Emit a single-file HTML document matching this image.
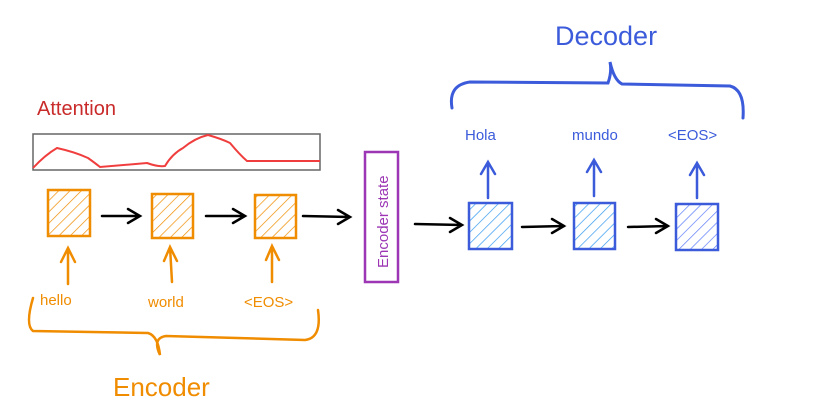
<!DOCTYPE html>
<html><head><meta charset="utf-8"><style>
html,body{margin:0;padding:0;background:#fff;}
svg{display:block;}
text{font-family:"Comic Sans MS","Liberation Sans",sans-serif;}
</style></head><body>
<svg width="826" height="415" viewBox="0 0 826 415" xmlns="http://www.w3.org/2000/svg">
<defs>
<pattern id="ho" width="8" height="8" patternUnits="userSpaceOnUse" patternTransform="rotate(45)">
<line x1="0" y1="0" x2="0" y2="8" stroke="#f08c00" stroke-width="1.4"/></pattern>
<pattern id="hb" width="8" height="8" patternUnits="userSpaceOnUse" patternTransform="rotate(45)">
<line x1="0" y1="0" x2="0" y2="8" stroke="#339af0" stroke-width="1.4"/></pattern>
<pattern id="hb2" width="8" height="8" patternUnits="userSpaceOnUse" patternTransform="rotate(45)">
<line x1="0" y1="0" x2="0" y2="8" stroke="#5c7cfa" stroke-width="1.4"/></pattern>
</defs>

<text x="37" y="115" font-size="20" fill="#c92a2a">Attention</text>
<rect x="33" y="134" width="287" height="36" fill="none" stroke="#666" stroke-width="1.5"/>
<path d="M33,168 Q45,155 57,148 Q75,152 88,158 Q95,163 100,167 L147,163 Q158,167 165,166 Q172,154 183,148 Q195,138 208,135 Q222,139 230,143 Q240,155 247,161 L320,161" fill="none" stroke="#f03e3e" stroke-width="2"/>

<g stroke="#f08c00" stroke-width="2.5">
<rect x="48" y="190" width="42" height="46" fill="url(#ho)"/>
<rect x="152" y="194" width="41" height="44" fill="url(#ho)"/>
<rect x="255" y="195" width="41" height="43" fill="url(#ho)"/>
</g>
<g stroke="#000" stroke-width="2.5" fill="none" stroke-linecap="round">
<path d="M102,216 L140,216 M128,209 L140,216 L128,223"/>
<path d="M206,216 L245,216 M233,209 L245,216 L233,223"/>
<path d="M303,216 L350,217 M338,210 L350,217 L338,224"/>
<path d="M415,224 L462,225 M450,218 L462,225 L450,232"/>
<path d="M522,227 L564,226 M552,219 L564,226 L552,233"/>
<path d="M628,227 L668,226 M656,219 L668,226 L656,233"/>
</g>

<rect x="365" y="152" width="33" height="130" fill="none" stroke="#9c36b5" stroke-width="2.5"/>
<text transform="translate(388,268) rotate(-90)" font-size="15" fill="#9c36b5">Encoder state</text>

<g stroke="#3b5bdb" stroke-width="2.5">
<rect x="469" y="203" width="43" height="46" fill="url(#hb)"/>
<rect x="574" y="203" width="41" height="46" fill="url(#hb)"/>
<rect x="676" y="204" width="42" height="46" fill="url(#hb2)"/>
</g>
<g stroke="#3b5bdb" stroke-width="2.5" fill="none" stroke-linecap="round">
<path d="M488,198 L488,162 M481,174 L488,162 L495,174"/>
<path d="M594,196 L594,160 M587,172 L594,160 L601,172"/>
<path d="M697,198 L697,163 M690,175 L697,163 L704,175"/>
<path d="M452,108 Q448,85 470,82 L608,83 Q612,72 610,62 Q614,80 622,84 L730,86 Q745,90 743,118" stroke-width="3"/>
</g>
<g fill="#3b5bdb" font-size="15">
<text x="465" y="140">Hola</text>
<text x="572" y="140">mundo</text>
<text x="668" y="140">&lt;EOS&gt;</text>
</g>
<text x="555" y="45" font-size="27" fill="#3b5bdb">Decoder</text>

<g stroke="#f08c00" stroke-width="2.5" fill="none" stroke-linecap="round">
<path d="M68,284 L68,248 M61,262 L68,248 L75,262"/>
<path d="M172,282 L170,247 M164,261 L170,247 L177,261"/>
<path d="M272,282 L272,246 M266,260 L272,246 L279,260"/>
<path d="M33,298 Q25,325 33,331 L148,333 Q158,336 160,355 Q152,338 166,336 L305,340 Q322,338 318,310"/>
</g>
<g fill="#f08c00" font-size="15">
<text x="40" y="305">hello</text>
<text x="148" y="307">world</text>
<text x="244" y="307">&lt;EOS&gt;</text>
</g>
<text x="113" y="396" font-size="26" fill="#f08c00">Encoder</text>
</svg>
</body></html>
